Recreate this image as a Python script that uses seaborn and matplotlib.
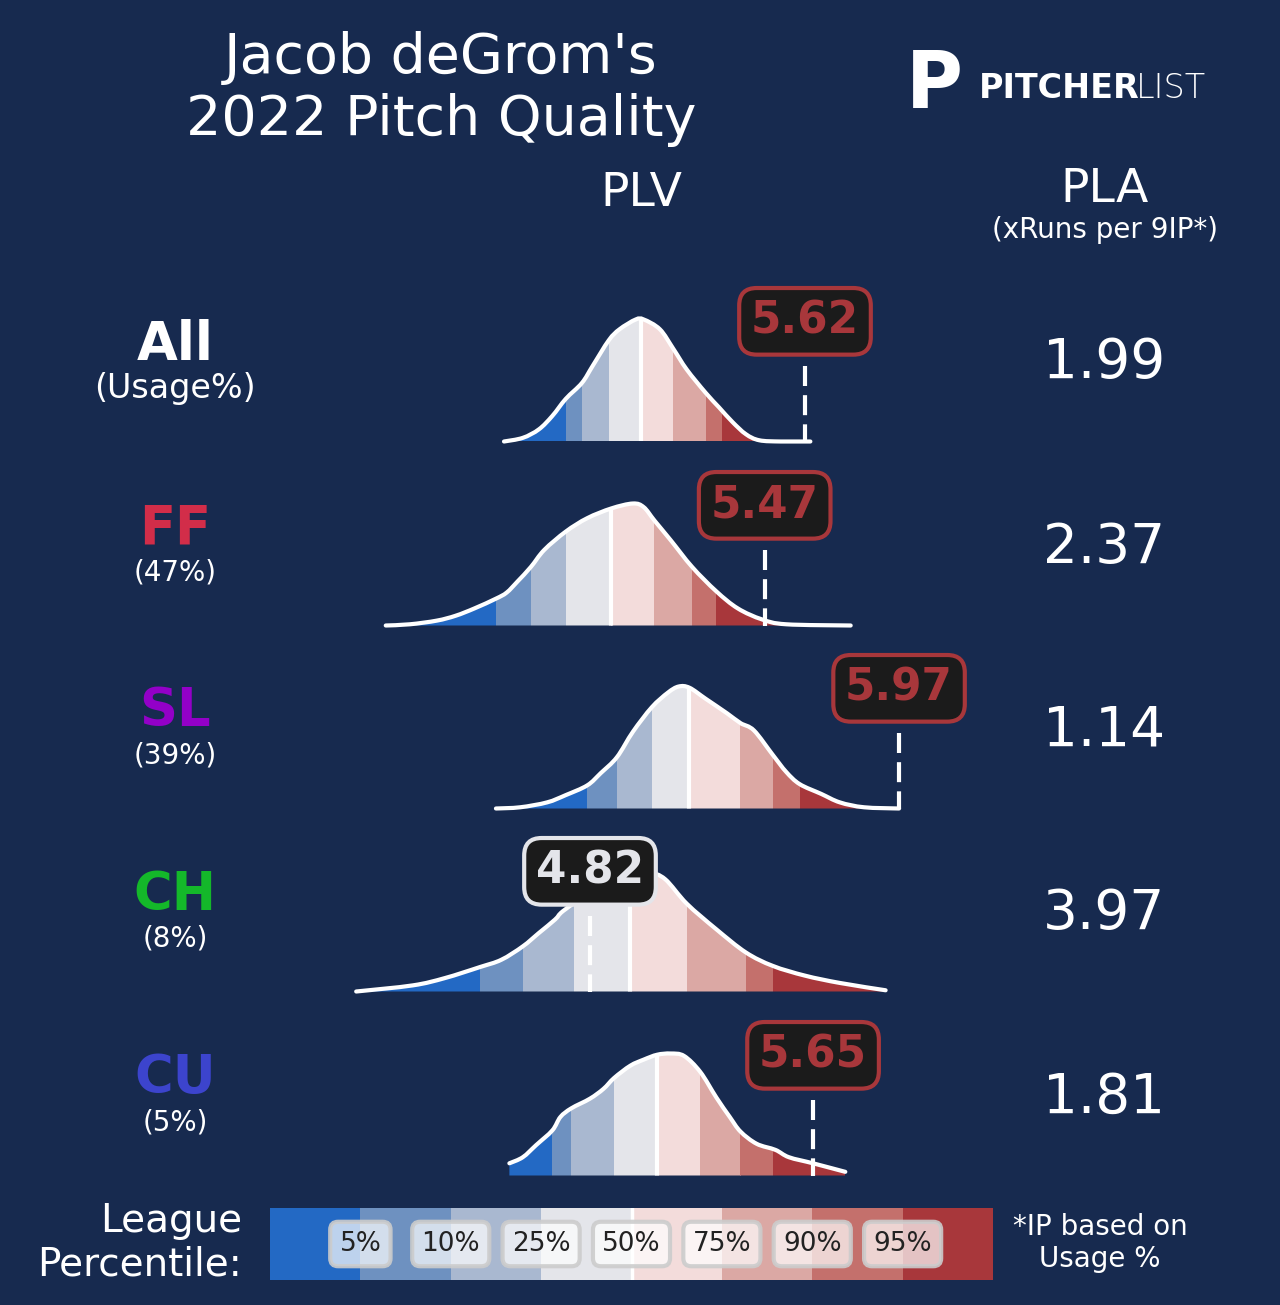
import numpy as np
import matplotlib
matplotlib.use("Agg")
import matplotlib.pyplot as plt
import matplotlib.patches as mpatches
from matplotlib.path import Path
from matplotlib.colors import ListedColormap
import seaborn as sns

# --- data ---
pitches = ["All", "FF", "SL", "CH", "CU"]
usage = [None, 47, 39, 8, 5]
plv_values = [5.62, 5.47, 5.97, 4.82, 5.65]
pla_values = [1.99, 2.37, 1.14, 3.97, 1.81]
pitch_colors = ["#ffffff", "#d22d49", "#9300c8", "#14b82a", "#3c44cd"]

# league PLV distribution per pitch (x = PLV, y = density scaled to peak)
all_x = [4.50, 4.57, 4.63, 4.68, 4.73, 4.79, 4.83, 4.89, 4.93, 4.99, 5.02, 5.08, 5.13,
         5.18, 5.25, 5.30, 5.35, 5.40, 5.45, 5.53, 5.64]
all_y = [0, .03, .10, .21, .35, .48, .62, .83, .92, 1.0, 1.0, .92, .76,
         .59, .40, .28, .16, .06, .01, 0, 0]
ff_x = [4.06, 4.15, 4.25, 4.32, 4.39, 4.47, 4.51, 4.55, 4.60, 4.65, 4.73, 4.81, 4.90,
        4.98, 5.02, 5.06, 5.12, 5.20, 5.29, 5.37, 5.46, 5.55, 5.79]
ff_y = [0, .01, .04, .08, .14, .22, .27, .36, .48, .62, .77, .88, .96,
        1.0, .97, .86, .70, .48, .28, .14, .05, .01, 0]
sl_x = [4.47, 4.56, 4.66, 4.73, 4.81, 4.86, 4.92, 4.98, 5.05, 5.11, 5.15, 5.19, 5.25,
        5.33, 5.38, 5.43, 5.50, 5.55, 5.60, 5.68, 5.75, 5.84, 5.97]
sl_y = [0, .01, .05, .11, .19, .29, .42, .63, .83, .95, 1.0, .99, .90,
        .78, .70, .64, .44, .30, .20, .12, .05, .01, 0]
ch_x = [3.95, 4.16, 4.28, 4.41, 4.49, 4.57, 4.63, 4.69, 4.72, 4.82, 4.89, 4.97, 5.04,
        5.10, 5.18, 5.29, 5.40, 5.50, 5.62, 5.75, 5.92]
ch_y = [0, .05, .11, .20, .26, .37, .48, .59, .66, .82, .94, 1.0, .98,
        .92, .72, .51, .32, .21, .13, .07, .01]
cu_x = [4.52, 4.57, 4.62, 4.68, 4.71, 4.75, 4.82, 4.87, 4.91, 4.97, 5.02, 5.07, 5.12,
        5.17, 5.23, 5.29, 5.34, 5.38, 5.44, 5.51, 5.56, 5.65, 5.77]
cu_y = [.10, .15, .25, .37, .48, .55, .63, .71, .80, .90, .95, .99, 1.0,
        .98, .85, .64, .48, .36, .26, .21, .15, .10, .03]

# league percentile cut points (5, 10, 25, 50, 75, 90, 95)
pct_labels = ["5%", "10%", "25%", "50%", "75%", "90%", "95%"]
all_pct = [4.73, 4.79, 4.89, 5.01, 5.13, 5.25, 5.31]
ff_pct = [4.47, 4.60, 4.73, 4.90, 5.06, 5.20, 5.29]
sl_pct = [4.81, 4.92, 5.05, 5.19, 5.38, 5.50, 5.60]
ch_pct = [4.41, 4.57, 4.76, 4.97, 5.18, 5.40, 5.50]
cu_pct = [4.68, 4.75, 4.91, 5.07, 5.23, 5.38, 5.50]

band_colors = ["#2369c4", "#6e91c0", "#a9b8d0", "#e4e5ea",
               "#f3dcdb", "#dba8a4", "#c4706c", "#a8373b"]

curves = [(all_x, all_y, all_pct), (ff_x, ff_y, ff_pct), (sl_x, sl_y, sl_pct),
          (ch_x, ch_y, ch_pct), (cu_x, cu_y, cu_pct)]

# --- layout ---
BG = "#172a4f"
W, H = 1280, 1305
baselines = [441.5, 625.5, 808.5, 991.5, 1175.5]
peak_px = 122


def fy(px):
    return 1 - px / H


def fx(px):
    return px / W


def smooth_segments(xs, ys):
    """Bezier (Catmull-Rom) segments through the read points."""
    p = np.column_stack([xs, ys])
    ext = np.vstack([p[0], p, p[-1]])
    verts, codes = [], []
    for i in range(len(p) - 1):
        p0, p1, p2, p3 = ext[i], ext[i + 1], ext[i + 2], ext[i + 3]
        c1 = p1 + (p2 - p0) / 6
        c2 = p2 - (p3 - p1) / 6
        c1[1] = max(c1[1], 0)
        c2[1] = max(c2[1], 0)
        verts += [c1, c2, p2]
        codes += [Path.CURVE4] * 3
    return verts, codes


sns.set_theme(style="white")
plt.rcParams["font.family"] = ["DejaVu Sans"]

fig = plt.figure(figsize=(W / 100, H / 100), dpi=100, facecolor=BG)

# x scale shared by every row: PLV units across the full width
xlim = (4.82 - 590 / 268.75, 4.82 + (W - 590) / 268.75)

for i, (xs, ys, pct) in enumerate(curves):
    b = baselines[i]
    ax = fig.add_axes([0, fy(b), 1, peak_px / H])
    ax.set_xlim(*xlim)
    ax.set_ylim(0, 1)
    ax.axis("off")

    xs = np.array(xs, dtype=float)
    ys = np.array(ys, dtype=float)
    seg_v, seg_c = smooth_segments(xs, ys)

    # filled area (used as clip for the percentile bands)
    fill_path = Path([(xs[0], 0), (xs[0], ys[0])] + seg_v + [(xs[-1], 0), (xs[0], 0)],
                     [Path.MOVETO, Path.LINETO] + seg_c + [Path.LINETO, Path.CLOSEPOLY])
    poly = mpatches.PathPatch(fill_path, transform=ax.transData)
    edges = [xs[0]] + list(pct) + [xs[-1]]
    for k in range(8):
        span = ax.axvspan(edges[k], edges[k + 1], color=band_colors[k], lw=0, zorder=1)
        span.set_clip_path(poly)
    mid = ax.axvline(pct[3], color="white", lw=3, zorder=2)
    mid.set_clip_path(poly)

    # outline
    line_path = Path([(xs[0], ys[0])] + seg_v, [Path.MOVETO] + seg_c)
    ax.add_patch(mpatches.PathPatch(line_path, fc="none", ec="white", lw=3,
                                    zorder=3, clip_on=False, capstyle="round"))

    v = plv_values[i]
    band = int(np.searchsorted(pct, v))
    c = band_colors[band]
    ax.plot([v, v], [0.62, 0], color="white", lw=3, dashes=(4.8, 2.2), zorder=4,
            clip_on=False)
    ax.text(v, 0.985, f"{v:.2f}", ha="center", va="center", fontsize=31.5,
            fontweight="bold", color=c, zorder=10,
            bbox=dict(boxstyle="round,pad=0.27,rounding_size=0.4", fc="#1b1b1b",
                      ec=c, lw=3))

    # row label + usage
    fig.text(fx(175), fy(b - 97), pitches[i], ha="center", va="center",
             fontsize=38, fontweight="bold", color=pitch_colors[i])
    sub = "(Usage%)" if usage[i] is None else f"({usage[i]}%)"
    fig.text(fx(175), fy(b - 53), sub, ha="center", va="center",
             fontsize=24 if usage[i] is None else 20, color="white")

    # PLA
    fig.text(fx(1104), fy(b - 78), f"{pla_values[i]:.2f}", ha="center",
             va="center", fontsize=39.5, color="white")

# --- titles ---
fig.text(fx(441), fy(89), "Jacob deGrom's\n2022 Pitch Quality", ha="center",
         va="center", fontsize=40, color="white", linespacing=1.17)
fig.text(fx(641), fy(193), "PLV", ha="center", va="center", fontsize=34, color="white")
fig.text(fx(1105), fy(189), "PLA", ha="center", va="center", fontsize=34, color="white")
fig.text(fx(1105), fy(230), "(xRuns per 9IP*)", ha="center", va="center",
         fontsize=20, color="white")

# logo
fig.text(fx(934), fy(86), "P", ha="center", va="center", fontsize=56,
         fontweight="bold", color="white")
fig.text(fx(979), fy(89), "PITCHER", ha="left", va="center", fontsize=24,
         fontweight="bold", color="white")
fig.text(fx(1136), fy(89), "LIST", ha="left", va="center", fontsize=24,
         fontweight=200, color="white")

# --- percentile legend ---
cax = fig.add_axes([fx(270), fy(1280), fx(993 - 270), (1280 - 1208) / H])
sns.heatmap(np.arange(8).reshape(1, 8), cmap=ListedColormap(band_colors), cbar=False,
            ax=cax, xticklabels=False, yticklabels=False, linewidths=0)
cax.axvline(4, color="white", lw=2.5)
for k, lab in enumerate(pct_labels):
    cax.text(k + 1, 0.5, lab, ha="center", va="center", fontsize=19, color="#222222",
             bbox=dict(boxstyle="round,pad=0.35,rounding_size=0.3",
                       fc=(1, 1, 1, 0.7), ec=(0.8, 0.8, 0.8, 0.9), lw=3))

fig.text(fx(242), fy(1243), "League\nPercentile:", ha="right", va="center",
         fontsize=28, color="white", linespacing=1.2)
fig.text(fx(1100), fy(1243), "*IP based on\nUsage %", ha="center", va="center",
         fontsize=20, color="white", linespacing=1.15)

fig.savefig("out.png", dpi=100, facecolor=BG)
